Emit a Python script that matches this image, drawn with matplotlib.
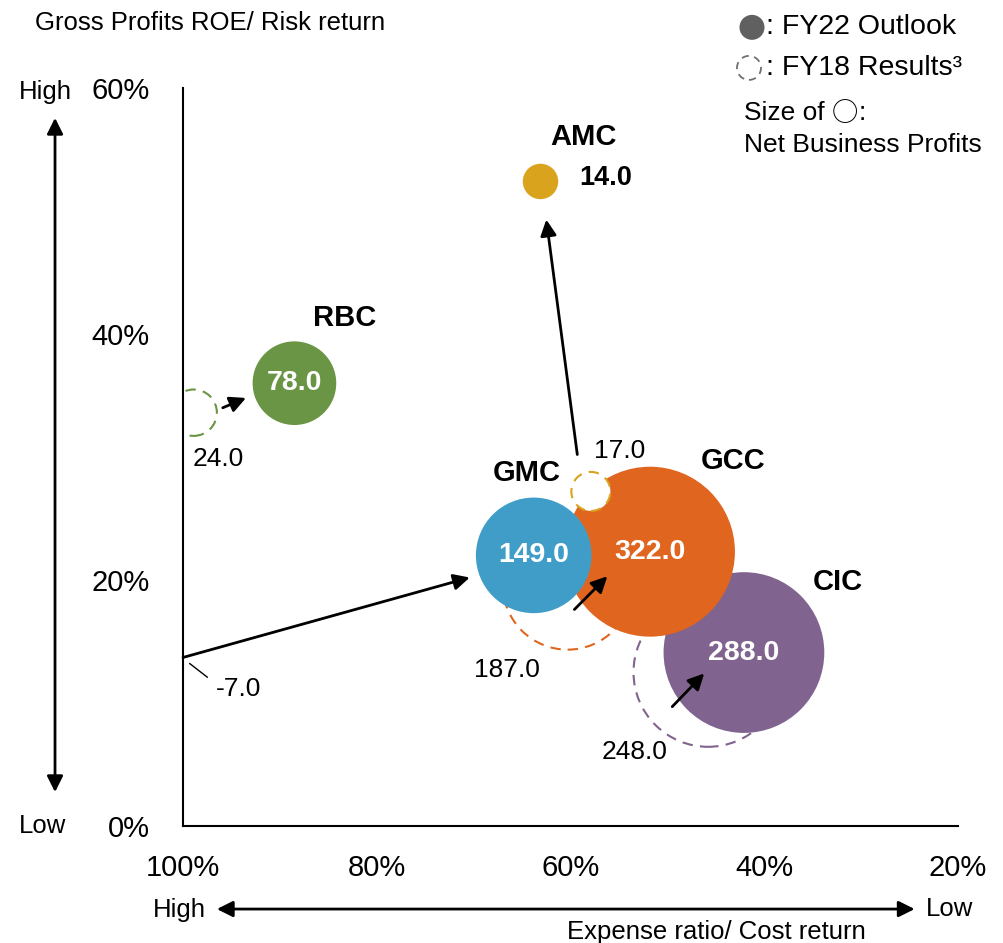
import matplotlib
matplotlib.use('Agg')
import matplotlib.pyplot as plt
from matplotlib.patches import Ellipse
from matplotlib.text import OffsetFrom

plt.rcParams['font.family'] = ['Liberation Sans', 'Noto Sans CJK JP', 'DejaVu Sans']

# business segments
segments = ['AMC', 'RBC', 'GMC', 'GCC', 'CIC']
colors = ['#D9A31E', '#6A9545', '#409DC8', '#E0661F', '#80638E']

# FY22 outlook: expense ratio (%), gross profits ROE (%), net business profits
fy22_x = [63.1, 88.5, 63.8, 51.8, 42.1]
fy22_y = [52.4, 36.0, 22.0, 22.3, 14.1]
fy22_profit = [14.0, 78.0, 149.0, 322.0, 288.0]

# FY18 results
fy18_x = [57.9, 98.9, 100.0, 60.3, 45.8]
fy18_y = [27.2, 33.6, 13.7, 19.6, 12.5]
fy18_profit = [17.0, 24.0, -7.0, 187.0, 248.0]

x_ticks = [100, 80, 60, 40, 20]
y_ticks = [0, 20, 40, 60]

# label placement (data coords)
name_pos = {'AMC': (58.7, 56.0), 'RBC': (83.3, 41.3), 'GMC': (64.5, 28.7),
            'GCC': (43.2, 29.7), 'CIC': (32.4, 19.8)}
fy18_label_pos = {'AMC': (54.9, 30.5), 'RBC': (96.4, 29.8), 'GMC': (94.3, 11.1),
                  'GCC': (66.6, 12.7), 'CIC': (53.4, 6.0)}
# arrows FY18 -> FY22 (start, end), drawn short of the bubbles
arrows = {'AMC': ((59.3, 30.2), (62.5, 49.3)),
          'RBC': ((95.9, 34.0), (93.5, 34.8)),
          'GMC': ((100.0, 13.7), (70.4, 20.2)),
          'GCC': ((59.6, 17.6), (56.2, 20.3)),
          'CIC': ((49.5, 9.7), (46.2, 12.4))}

size_k = 46.5  # points^2 per unit of profit

fig = plt.figure(figsize=(10.04, 9.43), dpi=100)
ax = fig.add_axes([0.1823, 0.1241, 0.7719, 0.7826])
ax.set_xlim(100, 20)
ax.set_ylim(0, 60)

# FY18 dashed circles (behind)
for i, s in enumerate(segments):
    if fy18_profit[i] <= 0 or s == 'AMC':
        continue
    ax.scatter(fy18_x[i], fy18_y[i], s=fy18_profit[i] * size_k, facecolors='white',
               edgecolors=colors[i], linestyles=(0, (5, 3.5)), linewidths=1.5, zorder=2)

# FY22 bubbles: CIC below GCC below GMC
for s in ['CIC', 'GCC', 'GMC', 'RBC', 'AMC']:
    i = segments.index(s)
    ax.scatter(fy22_x[i], fy22_y[i], s=fy22_profit[i] * size_k, color=colors[i],
               edgecolors='none', zorder=3)
    if s != 'AMC':
        ax.text(fy22_x[i], fy22_y[i], f'{fy22_profit[i]:.1f}', color='white',
                fontsize=20.5, fontweight='bold', ha='center', va='center', zorder=6)

# AMC FY18 sits on top of GCC
i = segments.index('AMC')
ax.scatter(fy18_x[i], fy18_y[i], s=fy18_profit[i] * size_k, facecolors='white',
           edgecolors=colors[i], linestyles=(0, (5, 3.5)), linewidths=1.5, zorder=4)
ax.text(56.4, 52.7, f'{fy22_profit[i]:.1f}', fontsize=19.5, fontweight='bold',
        ha='center', va='center')

for i, s in enumerate(segments):
    ax.text(*name_pos[s], s, fontsize=21, fontweight='bold', ha='center', va='center')
    ax.text(*fy18_label_pos[s], f'{fy18_profit[i]:.1f}', fontsize=19,
            ha='center', va='center')
    (x0, y0), (x1, y1) = arrows[s]
    ax.annotate('', xy=(x1, y1), xytext=(x0, y0),
                arrowprops=dict(arrowstyle='-|>', color='black', lw=2,
                                mutation_scale=24, shrinkA=0, shrinkB=0),
                zorder=7)

# leader line for GMC FY18
ax.plot([99.3, 97.5], [13.2, 12.1], color='black', lw=1, zorder=5)

ax.set_xticks(x_ticks)
ax.set_xticklabels([f'{t}%' for t in x_ticks])
ax.set_yticks(y_ticks)
ax.set_yticklabels([f'{t}%' for t in y_ticks])
ax.tick_params(length=0, labelsize=21)
ax.tick_params(axis='x', pad=20)
ax.tick_params(axis='y', pad=24)
for sp in ['top', 'right']:
    ax.spines[sp].set_visible(False)
for sp in ['left', 'bottom']:
    ax.spines[sp].set_linewidth(1.5)

# outer axis captions and arrows
fig.text(0.035, 0.976, 'Gross Profits ROE/ Risk return', fontsize=18.5, va='center')
fig.text(0.045, 0.902, 'High', fontsize=18.5, ha='center', va='center')
fig.text(0.042, 0.124, 'Low', fontsize=18.5, ha='center', va='center')
fig.text(0.179, 0.035, 'High', fontsize=18.5, ha='center', va='center')
fig.text(0.946, 0.036, 'Low', fontsize=18.5, ha='center', va='center')
fig.text(0.714, 0.012, 'Expense ratio/ Cost return', fontsize=18.5, ha='center', va='center')
ax.annotate('', xy=(0.0548, 0.875), xytext=(0.0548, 0.160), xycoords='figure fraction',
            arrowprops=dict(arrowstyle='<|-|>', color='black', lw=2, mutation_scale=24,
                            shrinkA=0, shrinkB=0), annotation_clip=False)
ax.annotate('', xy=(0.911, 0.036), xytext=(0.216, 0.036), xycoords='figure fraction',
            arrowprops=dict(arrowstyle='<|-|>', color='black', lw=2, mutation_scale=24,
                            shrinkA=0, shrinkB=0), annotation_clip=False)

# legend
fig.add_artist(Ellipse((0.749, 0.971), 25 / 1004, 25 / 943, transform=fig.transFigure,
                       facecolor='#606060', edgecolor='none'))
fig.add_artist(Ellipse((0.746, 0.928), 24 / 1004, 24 / 943, transform=fig.transFigure,
                       facecolor='none', edgecolor='#707070', linestyle=(0, (4, 3)), lw=1.3))
fig.text(0.763, 0.971, ': FY22 Outlook', fontsize=20.5, va='center')
fig.text(0.763, 0.928, ': FY18 Results³', fontsize=20.5, va='center')
t1 = fig.text(0.741, 0.880, 'Size of ', fontsize=19, va='center')
t2 = fig.text(0, 0, '○', fontsize=19, va='center', family=['Noto Sans CJK JP'])
t2.set_position((0, 0))
fig.text(0.741, 0.846, 'Net Business Profits', fontsize=19, va='center')

# place the full-width circle and the colon right after "Size of "
fig.canvas.draw()
bb = t1.get_window_extent().transformed(fig.transFigure.inverted())
t2.set_position((bb.x1, 0.880))
fig.canvas.draw()
bb2 = t2.get_window_extent().transformed(fig.transFigure.inverted())
fig.text(bb2.x1, 0.880, ':', fontsize=19, va='center')

fig.savefig('out.png', dpi=100)
